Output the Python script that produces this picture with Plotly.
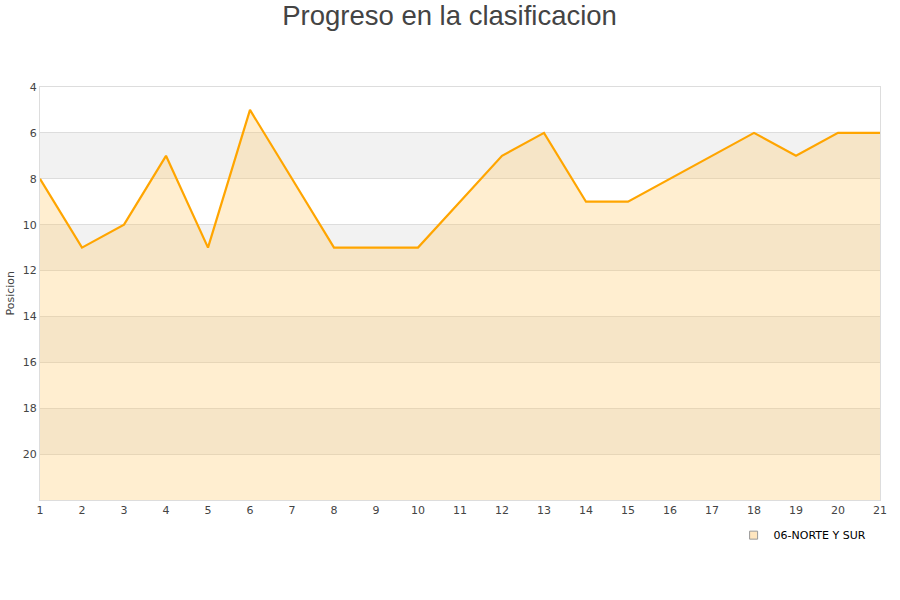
import plotly.graph_objects as go

jornadas = list(range(1, 22))
posiciones = [8, 11, 10, 7, 11, 5, 8, 11, 11, 11, 9, 7, 6, 9, 9, 8, 7, 6, 7, 6, 6]
serie = "06-NORTE Y SUR"
y_ticks = [4, 6, 8, 10, 12, 14, 16, 18, 20]
bandas_grises = [(6, 8), (10, 12), (14, 16), (18, 20)]
y_min, y_max = 4, 22

fig = go.Figure()

# baseline for fill
fig.add_trace(go.Scatter(x=jornadas, y=[y_max] * len(jornadas), mode="lines",
                         line=dict(width=0), showlegend=False, hoverinfo="skip"))
fig.add_trace(go.Scatter(x=jornadas, y=posiciones, mode="lines", fill="tonexty",
                         fillcolor="rgba(255,200,100,0.3)",
                         line=dict(color="#ffa500", width=2.2), showlegend=False))
# legend entry
fig.add_trace(go.Scatter(x=[None], y=[None], mode="markers", name=serie,
                         marker=dict(symbol="square", size=8, color="#ffe6bf",
                                     line=dict(color="#999999", width=1))))

for a, b in bandas_grises:
    fig.add_shape(type="rect", xref="paper", x0=0, x1=1, yref="y", y0=a, y1=b,
                  fillcolor="#f2f2f2", line=dict(width=0), layer="below")

fig.add_annotation(text="Posicion", xref="paper", yref="paper", x=-30 / 840, y=0.5,
                   xanchor="center", yanchor="middle", textangle=-90, showarrow=False,
                   font=dict(size=11, color="#444"))

fig.update_layout(
    width=900, height=600,
    paper_bgcolor="white", plot_bgcolor="white",
    margin=dict(l=40, r=20, t=87, b=100, autoexpand=False),
    title=dict(text="Progreso en la clasificacion", xref="container", x=0.4995, xanchor="center",
               yref="container", y=1 - 15 / 600, yanchor="middle",
               font=dict(family="Liberation Sans, Arial, sans-serif", size=27.5, color="#444")),
    font=dict(family="DejaVu Sans, sans-serif", size=11, color="#444"),
    legend=dict(orientation="h", x=0.99, xanchor="right", y=-0.05, yanchor="top",
                font=dict(size=11, color="#000"), bgcolor="rgba(0,0,0,0)"),
    xaxis=dict(range=[1, 21], tickmode="array", tickvals=jornadas, showgrid=False,
               zeroline=False, showline=True, linecolor="#dddddd", mirror=True,
               ticks="", automargin=False, tickfont=dict(size=11, color="#444")),
    yaxis=dict(range=[y_max, y_min], tickmode="array", tickvals=y_ticks,
               showgrid=True, gridcolor="#dddddd", zeroline=False, showline=True,
               linecolor="#dddddd", mirror=True, ticks="", automargin=False,
               tickfont=dict(size=11, color="#444")),
)

fig.write_html("out.html", config={"displayModeBar": False},
               post_script="document.body.style.margin='0px';document.body.style.overflow='hidden';")
